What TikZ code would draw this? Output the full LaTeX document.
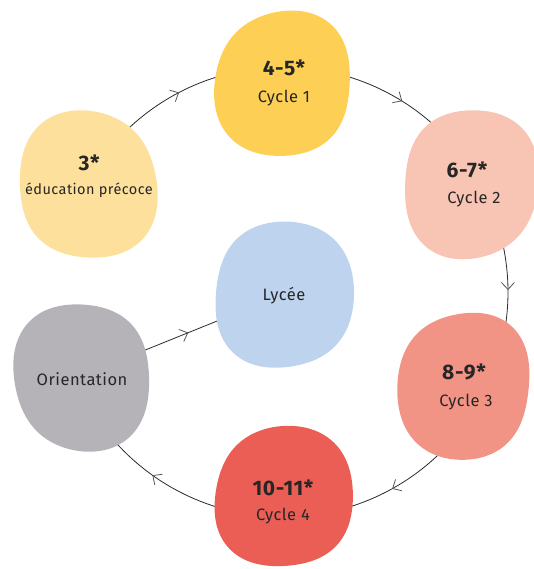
\documentclass[tikz,border=0pt]{standalone}
\usepackage{fontspec}
\setmainfont{Fira Sans}[LetterSpace=3]
\usetikzlibrary{arrows.meta,decorations.markings}
\definecolor{cEdu}{HTML}{FDE09B}
\definecolor{cC1}{HTML}{FDD055}
\definecolor{cC2}{HTML}{F8C4B4}
\definecolor{cC3}{HTML}{F29485}
\definecolor{cC4}{HTML}{EB5E55}
\definecolor{cOri}{HTML}{B5B3B8}
\definecolor{cLyc}{HTML}{BED3EE}
\definecolor{txt}{HTML}{262626}
\definecolor{lnc}{HTML}{2A2A2A}
\definecolor{arc}{HTML}{555555}
% organic blob: colour, cx, cy, a, b, e2, p2, e3, p3
\newcommand{\myblob}[9]{%
  \fill[#1] plot[domain=0:357, samples=120, smooth cycle, variable=\t]
   ({#2+1.022*#4*(1+#6*cos(2*(\t-#7))+#8*cos(3*(\t-#9))-0.022*cos(4*\t))*cos(\t)},
    {#3+1.022*#5*(1+#6*cos(2*(\t-#7))+#8*cos(3*(\t-#9))-0.022*cos(4*\t))*sin(\t)});}
\tikzset{
  num/.style={font=\fontsize{21}{24}\selectfont\bfseries, text=txt, inner sep=0pt},
  lab/.style={font=\fontsize{16.5}{19}\selectfont, text=txt, inner sep=0pt},
  small/.style={font=\fontsize{14.5}{17}\selectfont, text=txt, inner sep=0pt},
  link/.style={draw=lnc, line width=0.8pt,
    postaction={decorate},
    decoration={markings, mark=at position #1 with {\arrow[arc, line width=0.8pt]{Straight Barb[length=7pt,width=13pt]}}}},
  link/.default=0.5
}
\begin{document}
\begin{tikzpicture}[x=1pt,y=-1pt]
\useasboundingbox (0,0) rectangle (533,569);
\coordinate (ctr) at (283,292);
% connectors (drawn first, blobs cover ends)
\draw[link] (ctr) ++(-140:225) arc[start angle=-140, end angle=-95, radius=225];
\draw[link] (ctr) ++(-80:225) arc[start angle=-80, end angle=-36, radius=225];
\draw[link] (ctr) ++(-12:225) arc[start angle=-12, end angle=11, radius=225];
\draw[link] (ctr) ++(40:225) arc[start angle=40, end angle=82, radius=225];
\draw[link] (ctr) ++(100:225) arc[start angle=100, end angle=151, radius=225];
\coordinate (oriR) at (128,357);
\coordinate (lycL) at (232,315);
\draw[link=0.58] (oriR) -- (lycL);
% blobs
\myblob{cEdu}{88}{185}{70}{72}{0.04}{-120}{0.015}{20}
\myblob{cC1}{283}{84}{69}{71}{0.04}{-60}{0.015}{50}
\myblob{cC2}{471}{184}{68}{73}{0.035}{-60}{0.015}{-10}
\myblob{cC3}{464}{386}{67}{72}{0.035}{-60}{0.015}{70}
\myblob{cC4}{284}{497}{70}{69}{0.03}{-60}{0.015}{30}
\myblob{cOri}{82}{377}{69}{72}{0.04}{-120}{0.015}{-40}
\myblob{cLyc}{284}{295}{70}{72}{0.025}{-60}{0.015}{10}
% texts
\node[num] (eduN) at (89,163) {3*};
\node[small] (eduL) at (89,190) {éducation précoce};
\node[num] (c1N) at (284,68) {4-5*};
\node[lab] (c1L) at (284,98) {Cycle 1};
\node[num] (c2N) at (467,170) {6-7*};
\node[lab] (c2L) at (474,199) {Cycle 2};
\node[num] (c3N) at (464,372) {8-9*};
\node[lab] (c3L) at (466,402) {Cycle 3};
\node[num] (c4N) at (283,488) {10-11*};
\node[lab] (c4L) at (283,516) {Cycle 4};
\node[lab] (ori) at (82,379) {Orientation};
\node[lab] (lyc) at (284,296) {Lycée};
\end{tikzpicture}
\end{document}
